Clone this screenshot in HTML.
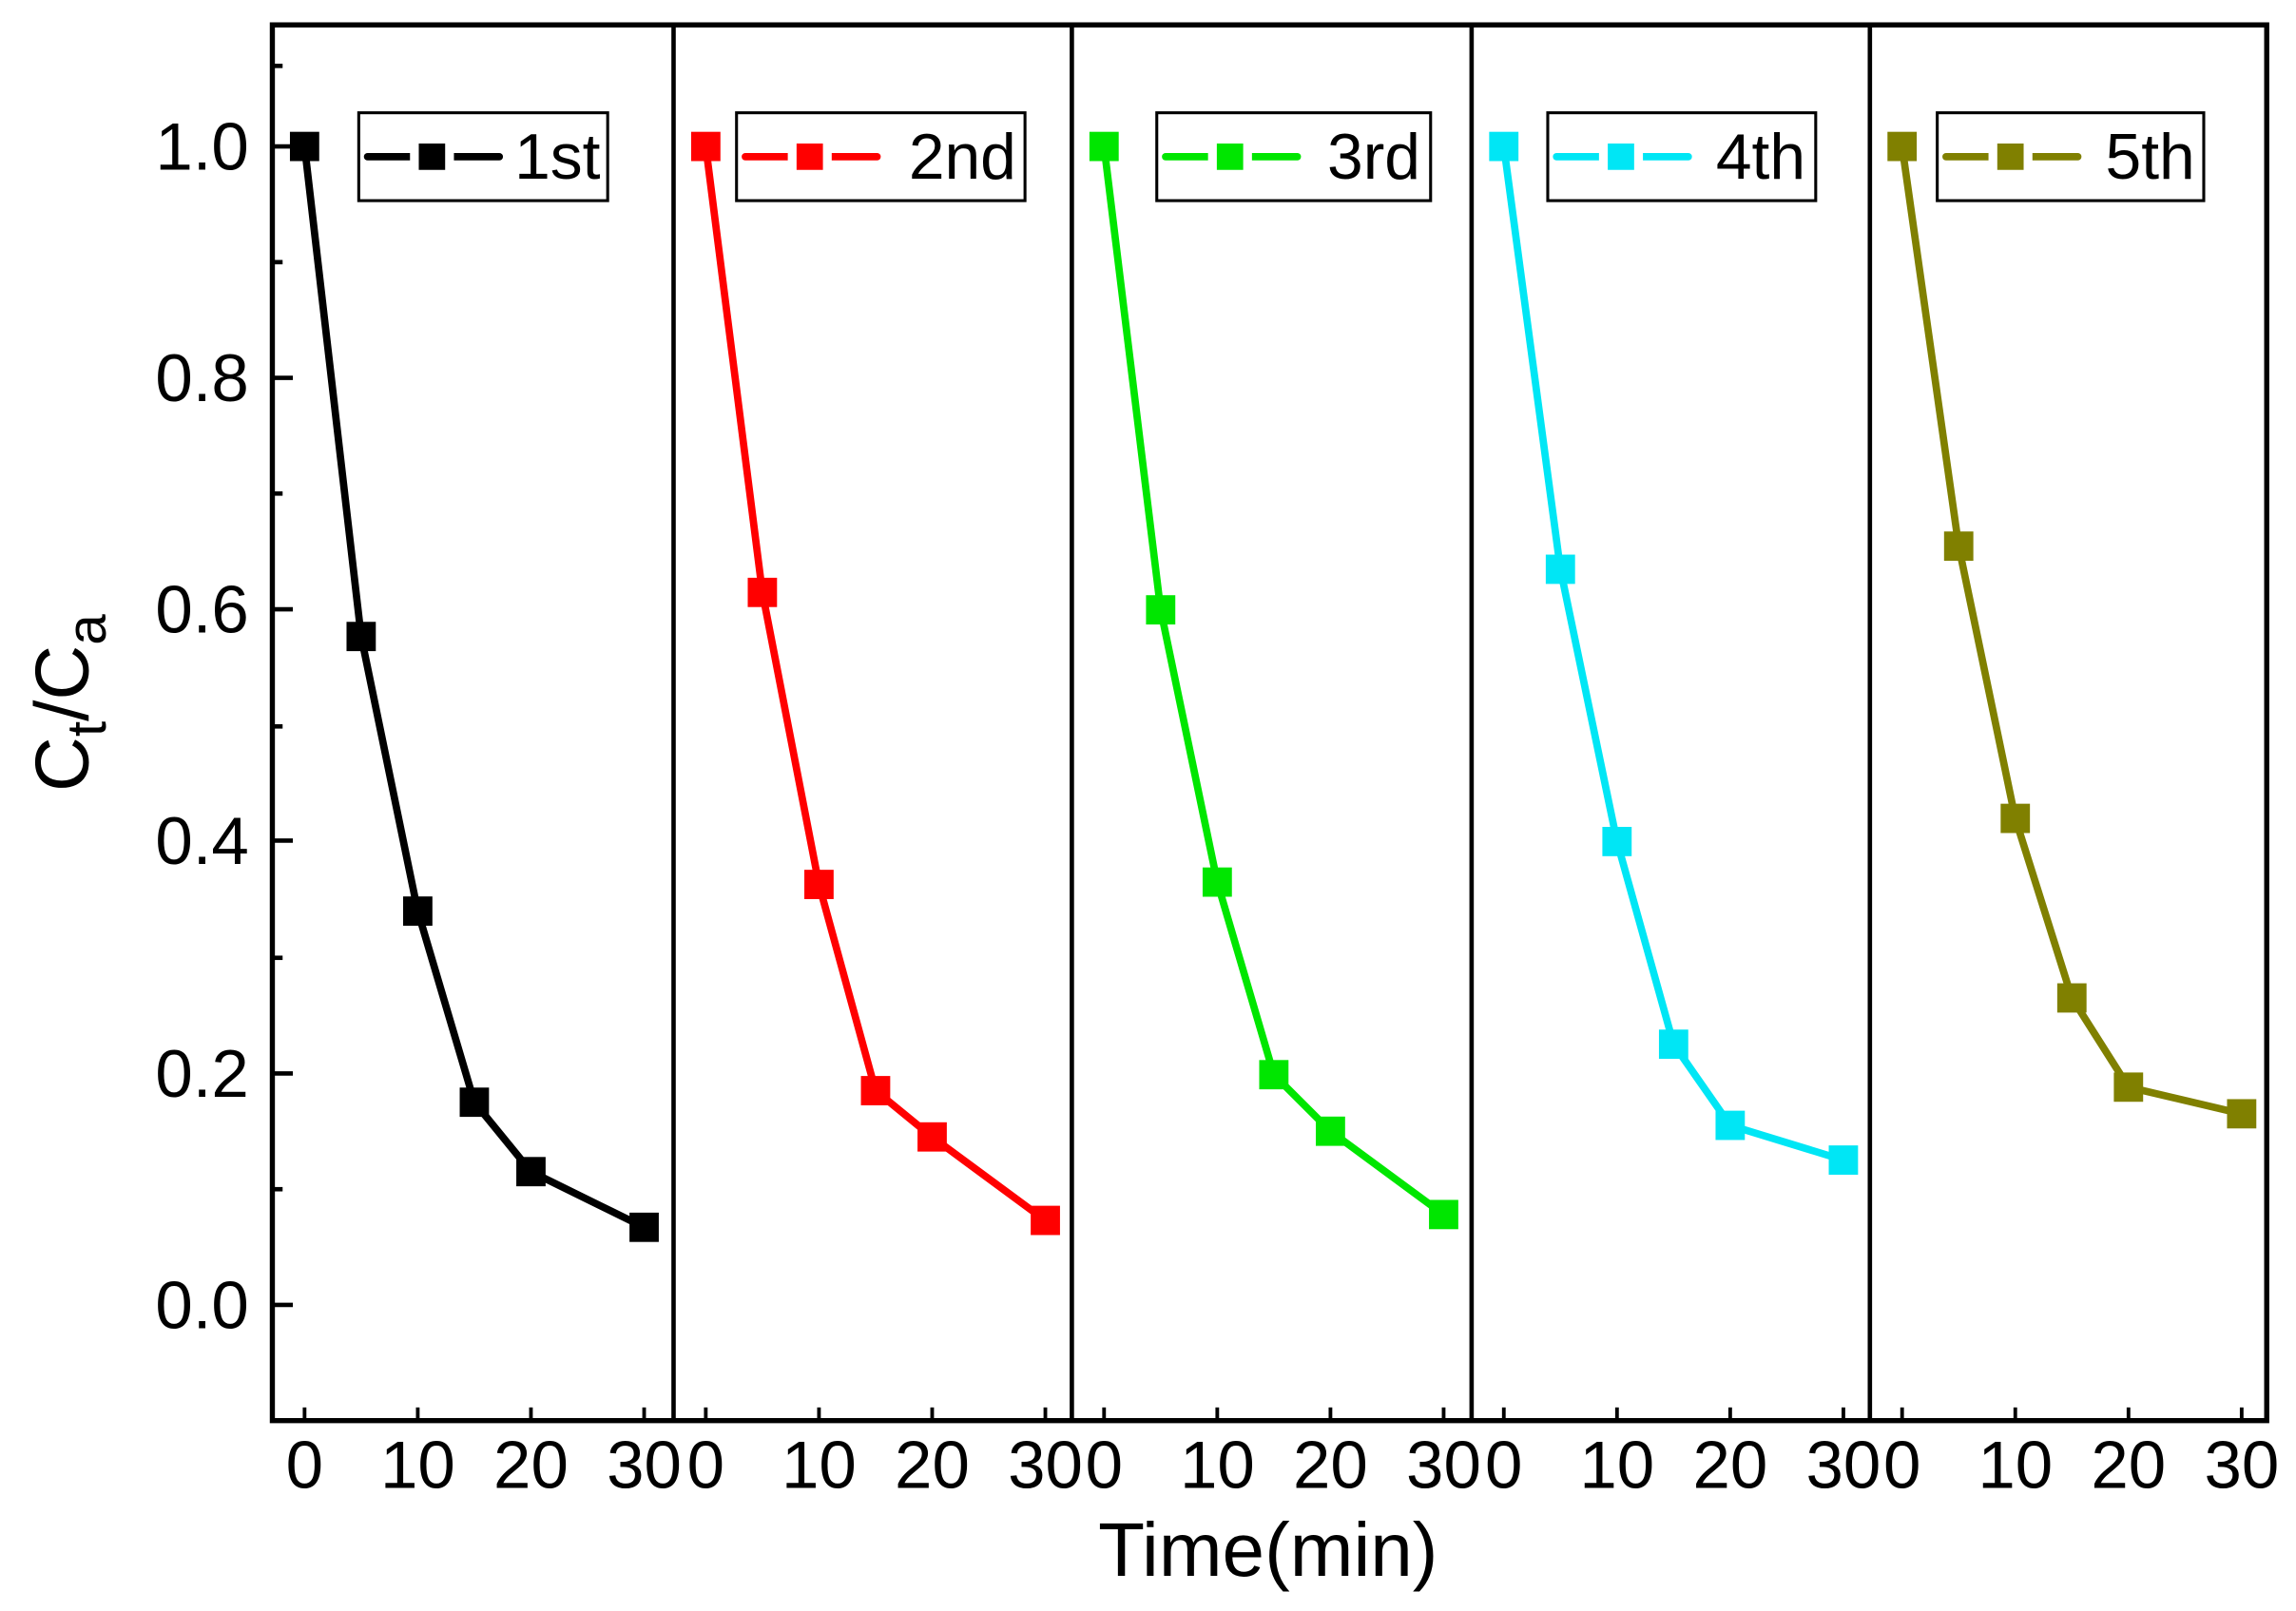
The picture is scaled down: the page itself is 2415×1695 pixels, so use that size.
<!DOCTYPE html>
<html><head><style>html,body{margin:0;padding:0;background:#fff}svg{display:block}</style></head>
<body>
<svg width="2415" height="1695" viewBox="0 0 1568 1100" preserveAspectRatio="none" xmlns="http://www.w3.org/2000/svg" font-family="Liberation Sans, Arial, sans-serif">
<rect width="1568" height="1100" fill="#fff"/>
<g stroke="#000" stroke-width="3">
<line x1="186" y1="100" x2="200" y2="100"/><line x1="186" y1="179" x2="193" y2="179"/>
<line x1="186" y1="258" x2="200" y2="258"/><line x1="186" y1="337" x2="193" y2="337"/>
<line x1="186" y1="416" x2="200" y2="416"/><line x1="186" y1="496" x2="193" y2="496"/>
<line x1="186" y1="574" x2="200" y2="574"/><line x1="186" y1="654" x2="193" y2="654"/>
<line x1="186" y1="733" x2="200" y2="733"/><line x1="186" y1="812" x2="193" y2="812"/>
<line x1="186" y1="891" x2="200" y2="891"/><line x1="186" y1="45" x2="193" y2="45"/>
</g>
<g stroke="#000" stroke-width="2.5">
<line x1="208" y1="970" x2="208" y2="961"/><line x1="285.3" y1="970" x2="285.3" y2="961"/><line x1="362.6" y1="970" x2="362.6" y2="961"/><line x1="439.9" y1="970" x2="439.9" y2="961"/>
<line x1="482" y1="970" x2="482" y2="961"/><line x1="559.3" y1="970" x2="559.3" y2="961"/><line x1="636.6" y1="970" x2="636.6" y2="961"/><line x1="713.9" y1="970" x2="713.9" y2="961"/>
<line x1="754" y1="970" x2="754" y2="961"/><line x1="831.3" y1="970" x2="831.3" y2="961"/><line x1="908.6" y1="970" x2="908.6" y2="961"/><line x1="985.9" y1="970" x2="985.9" y2="961"/>
<line x1="1027" y1="970" x2="1027" y2="961"/><line x1="1104.3" y1="970" x2="1104.3" y2="961"/><line x1="1181.6" y1="970" x2="1181.6" y2="961"/><line x1="1258.9" y1="970" x2="1258.9" y2="961"/>
<line x1="1299" y1="970" x2="1299" y2="961"/><line x1="1376.3" y1="970" x2="1376.3" y2="961"/><line x1="1453.6" y1="970" x2="1453.6" y2="961"/><line x1="1530.9" y1="970" x2="1530.9" y2="961"/>
</g>
<g font-size="46" text-anchor="end" fill="#000">
<text x="170" y="116">1.0</text><text x="170" y="274">0.8</text><text x="170" y="432">0.6</text>
<text x="170" y="590">0.4</text><text x="170" y="749">0.2</text><text x="170" y="907">0.0</text>
</g>
<g font-size="46" text-anchor="middle" fill="#000">
<text x="208" y="1016">0</text><text x="285.3" y="1016">10</text><text x="362.6" y="1016">20</text><text x="439.9" y="1016">30</text>
<text x="482" y="1016">0</text><text x="559.3" y="1016">10</text><text x="636.6" y="1016">20</text><text x="713.9" y="1016">30</text>
<text x="754" y="1016">0</text><text x="831.3" y="1016">10</text><text x="908.6" y="1016">20</text><text x="985.9" y="1016">30</text>
<text x="1027" y="1016">0</text><text x="1104.3" y="1016">10</text><text x="1181.6" y="1016">20</text><text x="1258.9" y="1016">30</text>
<text x="1299" y="1016">0</text><text x="1376.3" y="1016">10</text><text x="1453.6" y="1016">20</text><text x="1530.9" y="1016">30</text>
</g>
<text transform="translate(60,480) rotate(-90)" font-size="52" text-anchor="middle">C<tspan font-size="38" dy="12">t</tspan><tspan dy="-12">/C</tspan><tspan font-size="38" dy="12">a</tspan></text>
<text x="866" y="1076" font-size="52" text-anchor="middle">Time(min)</text>

<g stroke-width="5" stroke-linejoin="round" fill="none">
<polyline stroke="#000" points="208,100 246.65,434.6 285.3,622.1 323.95,752.6 362.6,800 439.9,838"/>
<polyline stroke="#f00" points="482,100 520.65,404.5 559.3,603.9 597.95,744.7 636.6,776.3 713.9,833.3"/>
<polyline stroke="#00e600" points="754,100 792.65,416.4 831.3,602.3 869.95,733.8 908.6,772.4 985.9,829.3"/>
<polyline stroke="#00e6f5" points="1027,100 1065.65,388.7 1104.3,574.6 1142.95,713 1181.6,768.4 1258.9,792.1"/>
<polyline stroke="#808000" points="1299,100 1337.65,372.9 1376.3,558.8 1414.95,681.4 1453.6,742.3 1530.9,760.5"/>
</g>
<g fill="#000">
<rect x="198" y="90" width="20" height="20"/><rect x="236.65" y="424.6" width="20" height="20"/><rect x="275.3" y="612.1" width="20" height="20"/><rect x="313.95" y="742.6" width="20" height="20"/><rect x="352.6" y="790" width="20" height="20"/><rect x="429.9" y="828" width="20" height="20"/>
</g>
<g fill="#f00">
<rect x="472" y="90" width="20" height="20"/><rect x="510.65" y="394.5" width="20" height="20"/><rect x="549.3" y="593.9" width="20" height="20"/><rect x="587.95" y="734.7" width="20" height="20"/><rect x="626.6" y="766.3" width="20" height="20"/><rect x="703.9" y="823.3" width="20" height="20"/>
</g>
<g fill="#00e600">
<rect x="744" y="90" width="20" height="20"/><rect x="782.65" y="406.4" width="20" height="20"/><rect x="821.3" y="592.3" width="20" height="20"/><rect x="859.95" y="723.8" width="20" height="20"/><rect x="898.6" y="762.4" width="20" height="20"/><rect x="975.9" y="819.3" width="20" height="20"/>
</g>
<g fill="#00e6f5">
<rect x="1017" y="90" width="20" height="20"/><rect x="1055.65" y="378.7" width="20" height="20"/><rect x="1094.3" y="564.6" width="20" height="20"/><rect x="1132.95" y="703" width="20" height="20"/><rect x="1171.6" y="758.4" width="20" height="20"/><rect x="1248.9" y="782.1" width="20" height="20"/>
</g>
<g fill="#808000">
<rect x="1289" y="90" width="20" height="20"/><rect x="1327.65" y="362.9" width="20" height="20"/><rect x="1366.3" y="548.8" width="20" height="20"/><rect x="1404.95" y="671.4" width="20" height="20"/><rect x="1443.6" y="732.3" width="20" height="20"/><rect x="1520.9" y="750.5" width="20" height="20"/>
</g>

<g stroke="#000" stroke-width="2" fill="#fff">
<rect x="245" y="77" width="170" height="60"/><rect x="503" y="77" width="197" height="60"/>
<rect x="790" y="77" width="187" height="60"/><rect x="1057" y="77" width="183" height="60"/>
<rect x="1323" y="77" width="182" height="60"/>
</g>
<g stroke-width="5" stroke-linecap="round">
<line x1="251" y1="107" x2="341" y2="107" stroke="#000"/>
<line x1="509" y1="107" x2="599" y2="107" stroke="#f00"/>
<line x1="796" y1="107" x2="886" y2="107" stroke="#00e600"/>
<line x1="1063" y1="107" x2="1153" y2="107" stroke="#00e6f5"/>
<line x1="1329" y1="107" x2="1419" y2="107" stroke="#808000"/>
</g>
<g stroke="#fff" stroke-width="6">
<line x1="280" y1="107" x2="310" y2="107"/><line x1="538" y1="107" x2="568" y2="107"/><line x1="825" y1="107" x2="855" y2="107"/><line x1="1092" y1="107" x2="1122" y2="107"/><line x1="1358" y1="107" x2="1388" y2="107"/>
</g>
<rect x="286" y="98" width="18" height="18" fill="#000"/>
<rect x="544" y="98" width="18" height="18" fill="#f00"/>
<rect x="831" y="98" width="18" height="18" fill="#00e600"/>
<rect x="1098" y="98" width="18" height="18" fill="#00e6f5"/>
<rect x="1364" y="98" width="18" height="18" fill="#808000"/>
<g font-size="44" text-anchor="end" fill="#000">
<text x="410" y="122">1st</text><text x="694" y="122">2nd</text><text x="970" y="122">3rd</text><text x="1233" y="122">4th</text><text x="1499" y="122">5th</text>
</g>

<rect x="186" y="17" width="1362" height="953" fill="none" stroke="#000" stroke-width="3.5"/>
<g stroke="#000" stroke-width="3">
<line x1="460" y1="17" x2="460" y2="970"/><line x1="732" y1="17" x2="732" y2="970"/>
<line x1="1005" y1="17" x2="1005" y2="970"/><line x1="1277" y1="17" x2="1277" y2="970"/>
</g>
</svg>
</body></html>
